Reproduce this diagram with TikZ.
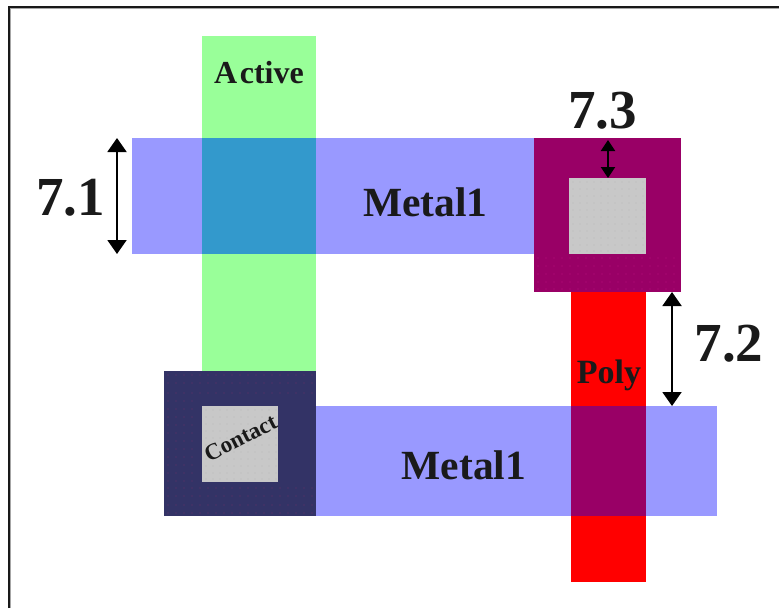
\documentclass[tikz,border=0pt]{standalone}
\usepackage{fontspec}
\setmainfont{Liberation Serif}
\usetikzlibrary{arrows.meta}
\definecolor{activecol}{HTML}{99FF99}
\definecolor{metalcol}{HTML}{9999FF}
\definecolor{overlapcol}{HTML}{3399CC}
\definecolor{viacol}{HTML}{990066}
\definecolor{contactcol}{HTML}{333366}
\definecolor{cutcol}{HTML}{C8C8C8}
\definecolor{cutdot}{HTML}{BABABA}
\definecolor{viadot}{HTML}{B8107C}
\definecolor{contactdot}{HTML}{6A3068}
\definecolor{inkcol}{HTML}{1A1A1A}
\newcommand{\dithergrid}[6]{% colour, x list start, x second, x end, y start/second/end as list
  \foreach \dx in {#2,#3,...,#4}{\foreach \dy in #5{\fill[#1] (\dx,\dy) circle[radius=#6];}}}
\tikzset{
  x=1pt,y=-1pt,
  layer/.style={inner sep=0pt,outer sep=0pt,draw=none,anchor=north west},
  labeltext/.style={inner sep=0pt,text=inkcol,font=\bfseries},
  bigdim/.style={labeltext,font=\bfseries\fontsize{55}{55}\selectfont},
  metaltext/.style={labeltext,font=\bfseries\fontsize{41.5}{41.5}\selectfont},
  dimline/.style={line width=2pt,{Triangle[length=14pt,width=19pt]}-{Triangle[length=14pt,width=19pt]}},
  smalldim/.style={line width=2pt,{Triangle[length=11pt,width=14pt]}-{Triangle[length=11pt,width=14pt]}},
}
\begin{document}
\begin{tikzpicture}
\useasboundingbox (0,0) rectangle (779,608);
\fill[white] (0,0) rectangle (779,608);
% frame
\draw[line width=1pt,black!35] (10.8,608) -- (10.8,8.6) -- (779,8.6);
\draw[line width=2.4pt,black!90] (9,608) -- (9,7) -- (779,7);
% layers
\node[layer,fill=activecol,minimum width=114pt,minimum height=335pt] (active) at (202,36) {};
\node[layer,fill=metalcol,minimum width=402pt,minimum height=116pt] (metaltop) at (132,138) {};
\node[layer,fill=overlapcol,minimum width=114pt,minimum height=116pt] (overlap) at (202,138) {};
\node[layer,fill=red,minimum width=75pt,minimum height=290pt] (poly) at (571,292) {};
\node[layer,fill=metalcol,minimum width=401pt,minimum height=110pt] (metalbot) at (316,406) {};
\node[layer,fill=viacol,minimum width=75pt,minimum height=110pt] (cross) at (571,406) {};
\node[layer,fill=viacol,minimum width=147pt,minimum height=154pt] (via) at (534,138) {};
\node[layer,fill=cutcol,minimum width=77pt,minimum height=76pt] (viacut) at (569,178) {};
\node[layer,fill=contactcol,minimum width=152pt,minimum height=145pt] (contact) at (164,371) {};
\node[layer,fill=cutcol,minimum width=76pt,minimum height=76pt] (contactcut) at (202,406) {};
% dither
\dithergrid{viadot}{538}{546}{678}{{258,266,274,282,289}}{0.7pt}
\dithergrid{contactdot}{168}{176}{312}{{375,383,393}}{0.7pt}
\dithergrid{contactdot}{168}{176}{312}{{488,496,505,513}}{0.7pt}
\dithergrid{contactdot}{168}{176}{196}{{401,409,417,425,433,441,449,457,465,473,481}}{0.7pt}
\dithergrid{cutdot}{573}{580}{644}{{182,189,196,203,210,217,224,231,238,245,251}}{0.6pt}
\dithergrid{cutdot}{206}{213}{276}{{410,417,424,431,438,445,452,459,466,473,479}}{0.6pt}
% labels
\node[labeltext,font=\bfseries\fontsize{32}{32}\selectfont] (lactive) at (259,73) {A\kern2.5pt ctive};
\node[metaltext] (lmetaltop) at (425.5,202) {Metal1};
\node[metaltext] (lmetalbot) at (464,465) {Metal1};
\node[labeltext,font=\bfseries\fontsize{34}{34}\selectfont] (lpoly) at (609,375) {Poly};
\node[labeltext,font=\bfseries\fontsize{23}{23}\selectfont,rotate=27] (lcontact) at (240.5,438) {Contact};
\node[bigdim] (d71) at (70.5,198) {7.1};
\node[bigdim] (d72) at (729,344) {7.2};
\node[bigdim] (d73) at (602.5,111) {7.3};
% dimension arrows
\coordinate (a71t) at (117,138);
\coordinate (a71b) at (117,254);
\coordinate (a72t) at (672,292);
\coordinate (a72b) at (672,406);
\coordinate (a73t) at (608,140);
\coordinate (a73b) at (608,178);
\draw[dimline] (a71t) -- (a71b);
\draw[dimline] (a72t) -- (a72b);
\draw[smalldim] (a73t) -- (a73b);
\end{tikzpicture}
\end{document}
